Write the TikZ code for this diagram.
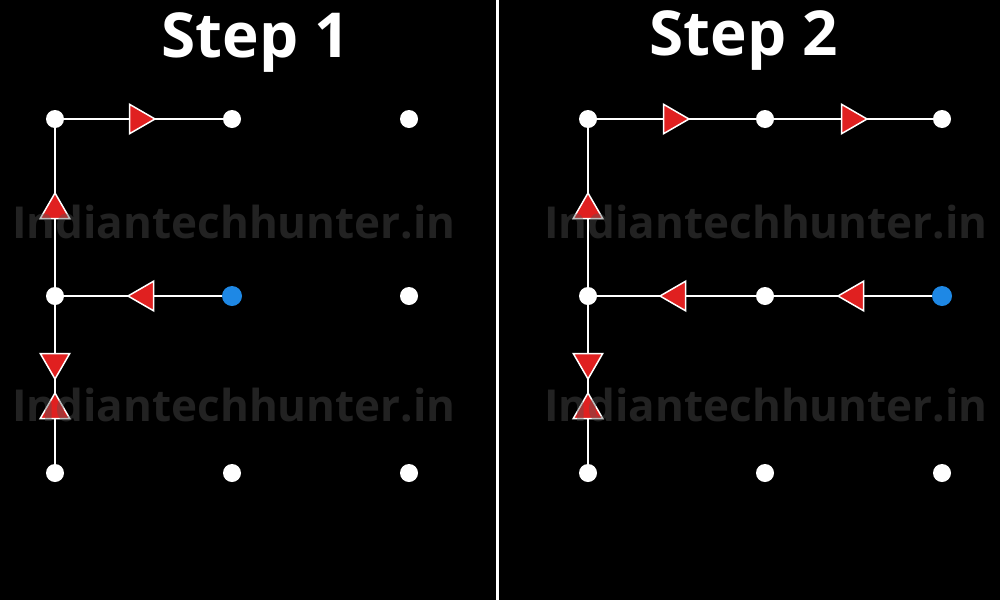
\documentclass[tikz,border=0pt]{standalone}
\usepackage{fontspec}
\setmainfont{Open Sans}
\usetikzlibrary{shapes.geometric}
\definecolor{tri}{HTML}{E02020}
\definecolor{bdot}{HTML}{1E88E5}
\definecolor{wm}{HTML}{555555}
\begin{document}
\begin{tikzpicture}[x=1pt,y=-1pt,
  dotw/.style={circle,fill=white,inner sep=0pt,minimum size=18pt},
  dotb/.style={circle,fill=bdot,inner sep=0pt,minimum size=20pt},
  trinode/.style={regular polygon,regular polygon sides=3,fill=tri,draw=white,line width=1.5pt,inner sep=0pt,minimum size=34pt},
  seg/.style={draw=white,line width=2.5pt},
  title/.style={text=white,font=\bfseries\fontsize{62}{70}\selectfont},
  wmark/.style={text=wm,text opacity=0.4,font=\bfseries\fontsize{44}{48}\selectfont}]
\fill[black] (0,0) rectangle (1000,600);
\useasboundingbox (0,0) rectangle (1000,600);
\draw[white,line width=3pt] (497,0) -- (497,600);
\node[title] (t1) at (256,42) {Step 1};
\node[title] (t2) at (744,40) {Step 2};
\foreach \i/\x in {1/55,2/232,3/409}{
  \foreach \j/\y in {1/119,2/296,3/473}{
    \coordinate (L\i\j) at (\x,\y);
    \coordinate (R\i\j) at (\x+533,\y);
  }
}
\draw[seg] (L22) -- (L12) -- (L11) -- (L21);
\draw[seg] (L12) -- (L13);
\draw[seg] (R32) -- (R12) -- (R11) -- (R31);
\draw[seg] (R12) -- (R13);
\foreach \p in {L11,L21,L31,L12,L32,L13,L23,L33,R11,R21,R31,R12,R22,R32,R13,R23,R33}
  \node[dotw] (d\p) at (\p) {};
\node[dotb] (bL) at (L22) {};
\node[dotb] (bR) at (R32) {};
\node[trinode,rotate=-90] (a1) at (138,119) {};
\node[trinode,rotate=90] (a2) at (145,296) {};
\node[trinode] (a3) at (55,210) {};
\node[trinode,rotate=180] (a4) at (55,362) {};
\node[trinode] (a5) at (55,410) {};
\node[trinode,rotate=-90] (b1) at (672,119) {};
\node[trinode,rotate=-90] (b2) at (850,119) {};
\node[trinode,rotate=90] (b3) at (677,296) {};
\node[trinode,rotate=90] (b4) at (855,296) {};
\node[trinode] (b5) at (588,210) {};
\node[trinode,rotate=180] (b6) at (588,362) {};
\node[trinode] (b7) at (588,410) {};
\foreach \cx/\n in {234/a,766/b}{
  \node[wmark] (w1\n) at (\cx,222) {Indiantechhunter.in};
  \node[wmark] (w2\n) at (\cx,405) {Indiantechhunter.in};
}
\end{tikzpicture}
\end{document}
